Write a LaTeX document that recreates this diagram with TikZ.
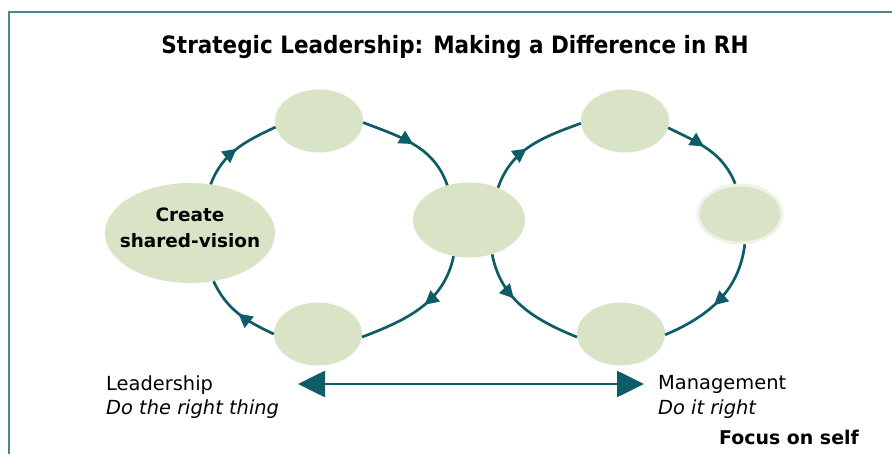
\documentclass[tikz,border=0pt]{standalone}
\usepackage{fontspec}
\setmainfont{DejaVu Sans}
\usepackage{graphicx}
\usetikzlibrary{arrows.meta,decorations.markings,shapes.geometric}
\definecolor{teal1}{HTML}{0E5C66}
\definecolor{sage}{HTML}{D9E4C6}
\definecolor{frame1}{HTML}{4A8890}
\definecolor{halo}{HTML}{EEF3E7}
\tikzset{
 bubble/.style={ellipse, fill=sage, inner sep=0pt, minimum width=88bp, minimum height=63bp},
 cyc/.style={teal1, line width=2.7bp, postaction={decorate},
   decoration={markings, mark=at position #1 with {\arrow{Triangle[length=14bp,width=14bp]}}}},
 cyc/.default=0.5,
 txt/.style={inner sep=0pt, anchor=base west, font=\fontsize{19.5}{24}\selectfont},
 itxt/.style={txt, font=\itshape\fontsize{19.5}{24}\selectfont},
}
\begin{document}
\begin{tikzpicture}[x=1bp,y=1bp]
\useasboundingbox (0,0) rectangle (892,-454);
\draw[frame1, line width=1.8bp] (892,-12) -- (9,-12) -- (9,-454);
\node[font=\bfseries\fontsize{24}{28}\selectfont, anchor=base, inner sep=0pt] (title) at (455,-54)
  {\scalebox{0.9}[1]{Strategic Leadership: Making a Difference in RH}};
% bubbles
\node[bubble, minimum width=170bp, minimum height=100bp] (create) at (190,-233) {};
\node[font=\bfseries\fontsize{18.5}{26}\selectfont, align=center, inner sep=0pt] (createtxt)
  at ([yshift=5bp]create.center) {Create\\shared-vision};
\node[bubble] (tl) at (319,-121) {};
\node[bubble] (bl) at (318,-334) {};
\node[bubble, minimum width=112bp, minimum height=75bp] (mid) at (469,-220) {};
\node[bubble] (tr) at (625,-121) {};
\node[bubble, minimum width=84bp, minimum height=58bp, draw=halo, line width=3bp] (rt) at (740,-214) {};
\node[bubble] (br) at (621,-334) {};
% left cycle
\draw[cyc] (create.67) to[out=69,in=205] (tl.188);
\draw[cyc] (tl.358) to[out=-21,in=109] (mid.122);
\draw[cyc=0.45] (mid.247) to[out=258,in=21] (bl.356);
\draw[cyc] (bl.180) to[out=155,in=295] (create.-64);
% right cycle
\draw[cyc=0.45] (mid.48) to[out=71,in=200] (tr.183);
\draw[cyc=0.45] (tr.351) to[out=-26,in=112] (rt.99);
\draw[cyc=0.55] (rt.-81) to[out=-97,in=23] (br.359);
\draw[cyc=0.4] (mid.-56) to[out=-79,in=158] (br.184);
% labels
\node[txt] (lead) at (106,-390) {Leadership};
\node[itxt] (leaddo) at (106,-414) {Do the right thing};
\node[txt] (mgmt) at (658,-389) {Management};
\node[itxt] (mgmtdo) at (658,-414) {Do it right};
\node[txt, font=\bfseries\fontsize{19}{24}\selectfont] (focus) at (719,-444) {Focus on self};
% double arrow
\coordinate (la) at (298,-384);
\coordinate (ra) at (644,-384);
\draw[teal1, line width=2.7bp, {Triangle[length=27bp,width=26bp]}-{Triangle[length=27bp,width=26bp]}] (la) -- (ra);
\end{tikzpicture}
\end{document}
